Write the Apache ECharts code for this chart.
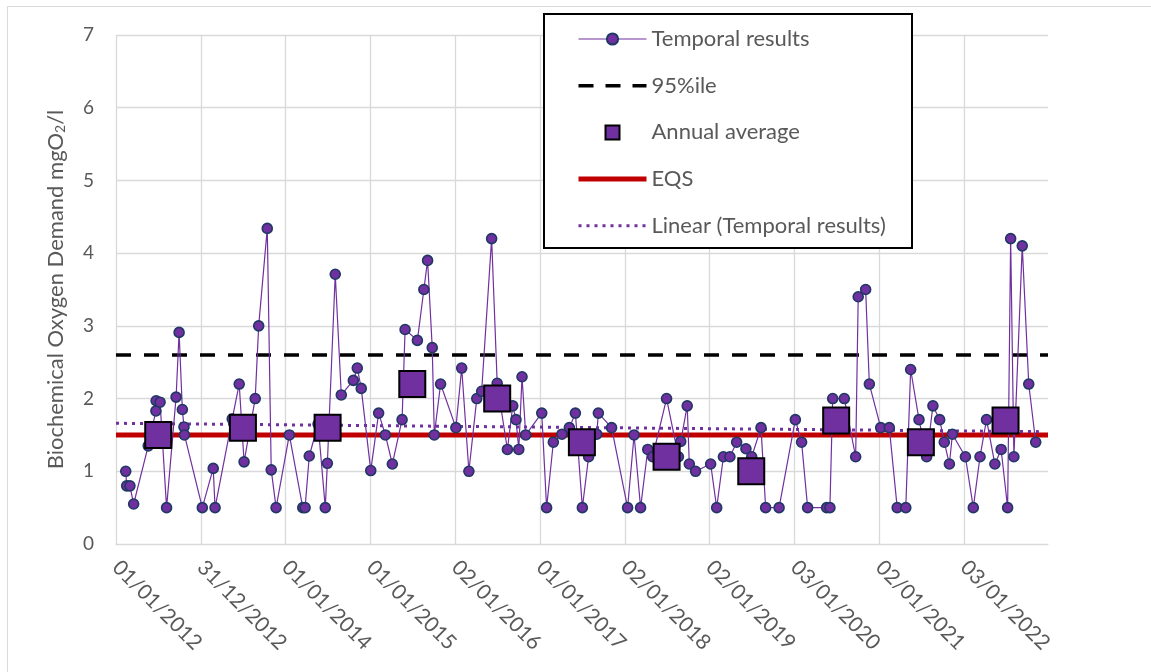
<!DOCTYPE html>
<html>
<head>
<meta charset="utf-8">
<script src="https://cdn.jsdelivr.net/npm/echarts@6/dist/echarts.min.js"></script>
<style>html,body{margin:0;padding:0;background:#fff}#c{width:1151px;height:672px}</style>
</head>
<body>
<div id="c"></div>
<script>
// Sample dates as days since 01/01/2012
const sampleDays = [
  42,46,60,76,139,172,173,190,218,259,
  272,286,293,295,372,419,427,501,531,552,
  600,615,652,669,690,747,805,815,833,871,
  902,911,945,971,1023,1040,1057,1098,1132,1161,
  1191,1233,1246,1299,1327,1343,1363,1372,1399,1465,
  1490,1521,1555,1576,1619,1643,1687,1710,1724,1736,
  1750,1766,1835,1856,1885,1922,1954,1980,2010,2037,
  2072,2079,2136,2205,2233,2261,2292,2313,2373,2424,
  2434,2462,2471,2498,2563,2589,2618,2646,2675,2715,
  2740,2780,2800,2858,2928,2955,2981,3063,3077,3089,
  3139,3188,3199,3231,3247,3296,3333,3367,3404,3425,
  3461,3494,3521,3550,3570,3592,3605,3661,3695,3724,
  3752,3788,3815,3843,3856,3870,3906,3934,3964
];
const bodValues = [
  1.0,0.8,0.8,0.55,1.35,1.83,1.97,1.95,0.5,2.02,
  2.91,1.85,1.61,1.5,0.5,1.04,0.5,1.72,2.2,1.13,
  2.0,3.0,4.34,1.02,0.5,1.5,0.5,0.5,1.21,1.65,
  0.5,1.11,3.71,2.05,2.25,2.42,2.14,1.01,1.8,1.5,
  1.1,1.71,2.95,2.8,3.5,3.9,2.7,1.5,2.2,1.6,
  2.42,1.0,2.0,2.1,4.2,2.21,1.3,1.9,1.71,1.3,
  2.3,1.5,1.8,0.5,1.4,1.51,1.6,1.8,0.5,1.2,
  1.51,1.8,1.6,0.5,1.5,0.5,1.3,1.2,2.0,1.2,
  1.41,1.9,1.1,1.0,1.1,0.5,1.2,1.2,1.4,1.31,
  1.2,1.6,0.5,0.5,1.71,1.4,0.5,0.5,0.5,2.0,
  2.0,1.2,3.4,3.5,2.2,1.6,1.6,0.5,0.5,2.4,
  1.71,1.2,1.9,1.71,1.4,1.1,1.51,1.2,0.5,1.2,
  1.71,1.1,1.3,0.5,4.2,1.2,4.1,2.2,1.4
];
const annualDays = [182,547,912,1277,1643,2008,2373,2738,3104,3469,3834];
const annualValues = [1.5,1.6,1.6,2.2,2.0,1.4,1.2,1.0,1.7,1.4,1.7];
const percentile95 = 2.6;
const eqsValue = 1.5;
const trendDays = [0,3990];
const trendValues = [1.66,1.545];
const xTickLabels = ['01/01/2012','31/12/2012','01/01/2014','01/01/2015','02/01/2016','01/01/2017','02/01/2018','02/01/2019','03/01/2020','02/01/2021','03/01/2022'];
const xTickStep = 365.5;
const xMax = 4017;
const yTickLabels = ['0','1','2','3','4','5','6','7'];
const seriesNames = ['Temporal results','95%ile','Annual average','EQS','Linear (Temporal results)'];

const FONT = 'Lato';
const TXT = '#595959';
const GRID = '#d9d9d9';
const HIDDEN = {color:'rgba(0,0,0,0)',borderColor:'rgba(0,0,0,0)',borderWidth:0,opacity:0};

const temporal = sampleDays.map((d,i)=>[d,bodValues[i]]);
const annual = annualDays.map((d,i)=>[d,annualValues[i]]);
const p95 = [[0,percentile95],[xMax,percentile95]];
const eqs = [[0,eqsValue],[xMax,eqsValue]];
const trend = trendDays.map((d,i)=>[d,trendValues[i]]);

const chart = echarts.init(document.getElementById('c'), null, {renderer:'canvas'});
chart.setOption({
  animation:false,
  backgroundColor:'#fff',
  textStyle:{fontFamily:FONT},
  graphic:[
    {type:'rect', z:0, shape:{x:7.5,y:6.5,width:1160,height:700}, style:{fill:'none',stroke:GRID,lineWidth:1}},
    {type:'rect', z:3, shape:{x:544,y:14,width:368,height:234}, style:{fill:'#fff',stroke:'#000',lineWidth:2}}
  ],
  grid:{left:116,right:103,top:35,bottom:128,containLabel:false},
  legend:{
    orient:'vertical', left:576, top:28, padding:0, z:10,
    itemWidth:68, itemHeight:14, itemGap:24.7,
    symbolKeepAspect:true,
    textStyle:{fontFamily:FONT,fontSize:22,color:TXT,lineHeight:20},
    data:[
      {name:seriesNames[0], lineStyle:{width:1.2}},
      {name:seriesNames[1], itemStyle:HIDDEN, lineStyle:{width:3.5,type:[15,12]}},
      {name:seriesNames[2], icon:'path://M0,0L15,0L15,15L0,15Z'},
      {name:seriesNames[3], itemStyle:HIDDEN, lineStyle:{width:5}},
      {name:seriesNames[4], itemStyle:HIDDEN, lineStyle:{width:3,type:[3,5]}}
    ]
  },
  xAxis:{
    type:'value', min:0, max:xMax, interval:xTickStep,
    axisLine:{show:true,lineStyle:{color:GRID,width:1}},
    axisTick:{show:false},
    splitLine:{show:true,showMaxLine:false,lineStyle:{color:GRID,width:1.3}},
    axisLabel:{
      rotate:-45, margin:20, fontFamily:FONT, fontSize:21, color:TXT,
      showMaxLabel:false,
      formatter:function(v){
        const k=Math.round(v/xTickStep);
        if(Math.abs(v-k*xTickStep)>0.5) return '';
        return xTickLabels[k]||'';
      }
    }
  },
  yAxis:{
    type:'value', min:0, max:7, interval:1,
    axisLine:{show:false}, axisTick:{show:false},
    splitLine:{show:true,lineStyle:{color:GRID,width:1.3}},
    axisLabel:{margin:22,fontFamily:FONT,fontSize:19,color:TXT,formatter:function(v){return yTickLabels[Math.round(v)];}},
    name:'{a|Biochemical Oxygen Demand mgO}{s|2}{a|/l}',
    nameLocation:'middle', nameGap:49,
    nameTextStyle:{
      rich:{
        a:{fontFamily:FONT,fontSize:22,color:TXT},
        s:{fontFamily:FONT,fontSize:14,color:TXT,padding:[9,0,0,0]}
      }
    }
  },
  series:[
    {
      name:seriesNames[0], type:'line', data:temporal, z:5,
      symbol:'circle', symbolSize:10,
      lineStyle:{color:'#7030A0',width:1.2},
      itemStyle:{color:'#7030A0',borderColor:'#1F3864',borderWidth:1.6}
    },
    {
      name:seriesNames[1], type:'line', data:p95, z:2, symbol:'none',
      lineStyle:{color:'#000',width:3.5,type:[15,13]},
      itemStyle:{color:'#000'}
    },
    {
      name:seriesNames[2], type:'scatter', data:annual, z:6,
      symbol:'rect', symbolSize:26,
      itemStyle:{color:'#7030A0',borderColor:'#000',borderWidth:2,opacity:1}
    },
    {
      name:seriesNames[3], type:'line', data:eqs, z:2, symbol:'none',
      lineStyle:{color:'#C00000',width:5},
      itemStyle:{color:'#C00000'}
    },
    {
      name:seriesNames[4], type:'line', data:trend, z:3, symbol:'none',
      lineStyle:{color:'#7030A0',width:3,type:[3,5]},
      itemStyle:{color:'#7030A0'}
    }
  ]
});
</script>
</body>
</html>
